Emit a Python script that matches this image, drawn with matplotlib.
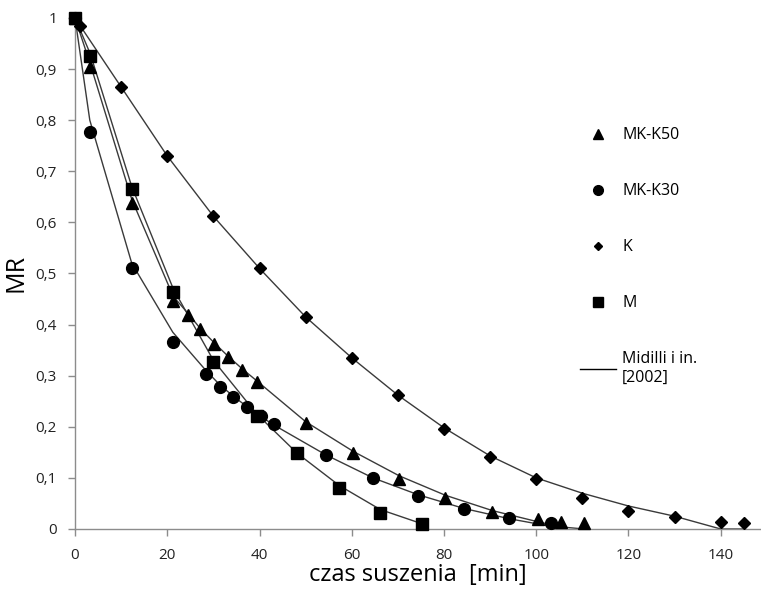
import matplotlib.pyplot as plt
from matplotlib.lines import Line2D
from matplotlib.ticker import FuncFormatter

# --- dane: czas suszenia [min] i MR ---
t_mk50 = [0, 3.3, 12.3, 21.3, 24.4, 27.1, 30.2, 33.2, 36.3, 39.4, 50, 60.3, 70.3, 80.3, 90.5, 100.4, 105.4, 110.4]
mr_mk50 = [1.0, 0.905, 0.638, 0.446, 0.419, 0.391, 0.362, 0.336, 0.312, 0.288, 0.207, 0.149, 0.098, 0.061, 0.033, 0.019, 0.013, 0.011]
fit_mk50 = [1.0, 0.91, 0.645, 0.455, 0.423, 0.393, 0.364, 0.338, 0.313, 0.29, 0.21, 0.152, 0.104, 0.066, 0.036, 0.014, 0.004, 0.0]

t_mk30 = [0, 3.2, 12.3, 21.2, 28.4, 31.4, 34.3, 37.2, 40.3, 43.2, 54.4, 64.6, 74.4, 84.4, 94.2, 103.3]
mr_mk30 = [1.0, 0.777, 0.511, 0.366, 0.303, 0.278, 0.258, 0.239, 0.221, 0.205, 0.145, 0.1, 0.065, 0.039, 0.022, 0.011]
fit_mk30 = [1.0, 0.80, 0.52, 0.385, 0.31, 0.282, 0.26, 0.24, 0.22, 0.203, 0.145, 0.1, 0.067, 0.04, 0.02, 0.005]

t_k = [0, 1.1, 10, 20, 30, 40, 50, 60, 70, 80, 90, 100, 110, 120, 130, 140, 145]
mr_k = [1.0, 0.984, 0.865, 0.73, 0.612, 0.51, 0.415, 0.335, 0.262, 0.196, 0.141, 0.098, 0.06, 0.035, 0.023, 0.014, 0.012]
fit_k = [1.0, 0.985, 0.865, 0.73, 0.612, 0.51, 0.415, 0.335, 0.262, 0.198, 0.143, 0.1, 0.07, 0.045, 0.025, 0.0, 0.0]

t_m = [0, 3.3, 12.3, 21.3, 30.0, 39.4, 48.2, 57.3, 66.2, 75.3]
mr_m = [1.0, 0.926, 0.665, 0.464, 0.327, 0.221, 0.149, 0.08, 0.031, 0.01]
fit_m = [1.0, 0.93, 0.67, 0.47, 0.33, 0.225, 0.148, 0.085, 0.038, 0.01]

plt.rcParams['font.family'] = ['Open Sans', 'DejaVu Sans']

fig = plt.figure(figsize=(7.61, 5.90), dpi=100)
ax = fig.add_axes([0.0986, 0.1034, 0.9, 0.8661])

line_kw = dict(color='#3a3a3a', lw=1.0, zorder=2)
ax.plot(t_mk50, fit_mk50, **line_kw)
ax.plot(t_mk30, fit_mk30, **line_kw)
ax.plot(t_k, fit_k, **line_kw)
ax.plot(t_m, fit_m, **line_kw)

ax.plot(t_mk50, mr_mk50, '^', color='black', ms=8, ls='none', zorder=3, clip_on=False)
ax.plot(t_mk30, mr_mk30, 'o', color='black', ms=8.5, ls='none', zorder=3, clip_on=False)
ax.plot(t_k, mr_k, 'D', color='black', ms=6.3, ls='none', zorder=3, clip_on=False)
ax.plot(t_m, mr_m, 's', color='black', ms=8, ls='none', zorder=4, clip_on=False)

ax.set_xlim(0, 148.5)
ax.set_ylim(0, 1.0)
ax.set_xticks(range(0, 141, 20))
ax.set_yticks([i / 10 for i in range(11)])
ax.yaxis.set_major_formatter(FuncFormatter(lambda v, p: ('%g' % round(v, 1)).replace('.', ',')))

for s in ['top', 'right']:
    ax.spines[s].set_visible(False)
for s in ['left', 'bottom']:
    ax.spines[s].set_color('#8c8c8c')
    ax.spines[s].set_linewidth(1.0)
ax.tick_params(direction='out', length=5, width=1, color='#8c8c8c', labelsize=11,
               labelcolor='#222222')
ax.tick_params(axis='y', pad=8)
ax.tick_params(axis='x', pad=9)

ax.set_xlabel('czas suszenia  [min]', fontsize=17, labelpad=0)
ax.set_ylabel('MR', fontsize=18, labelpad=5)

handles = [
    Line2D([], [], marker='^', color='black', ls='none', ms=7),
    Line2D([], [], marker='o', color='black', ls='none', ms=7),
    Line2D([], [], marker='D', color='black', ls='none', ms=4.5),
    Line2D([], [], marker='s', color='black', ls='none', ms=7),
    Line2D([], [], color='black', lw=1),
]
labels = ['MK-K50', 'MK-K30', 'K', 'M', 'Midilli i in.\n[2002]']
leg = ax.legend(handles, labels, loc='upper left', bbox_to_anchor=(0.717, 0.814),
                frameon=False, fontsize=11.5, labelspacing=2.5, handlelength=2.2,
                handletextpad=0.4)

plt.savefig('out.png', dpi=100, facecolor='white')
